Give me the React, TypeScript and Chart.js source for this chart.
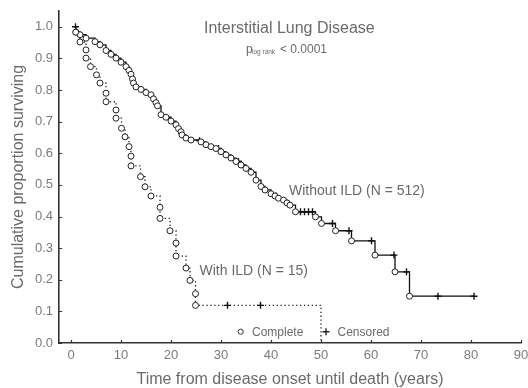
import React, { useEffect, useRef } from "react";
import { Chart, registerables } from "chart.js";

Chart.register(...registerables);

// ---------- data ----------
const xTicks = [0, 10, 20, 30, 40, 50, 60, 70, 80, 90];
const yTicks = [0, 0.1, 0.2, 0.3, 0.4, 0.5, 0.6, 0.7, 0.8, 0.9, 1.0];
const X_MIN = -2.4;
const X_MAX = 90;
const Y_MIN = 0;
const Y_MAX = 1.05;

const START_TIME = 0.9;

// Without ILD (N = 512): complete (death) events
const noIldTimes = [1.0, 1.8, 3.0, 4.8, 5.8, 7.0, 8.0, 9.0, 10.0, 11.0, 11.6, 12.0, 12.3, 12.5, 13.0, 14.0, 15.0, 16.0, 16.5, 17.0, 17.3, 18.0, 19.0, 20.0, 21.0, 21.5, 22.0, 22.2, 23.0, 24.0, 26.0, 27.0, 28.0, 29.0, 30.0, 31.0, 32.0, 33.0, 34.0, 35.0, 36.0, 37.0, 38.0, 38.8, 40.0, 40.8, 41.5, 42.5, 43.2, 43.8, 44.9, 48.9, 50.1, 52.9, 56.1, 60.8, 64.8, 67.7];
const noIldSurv = [0.983, 0.975, 0.964, 0.953, 0.943, 0.925, 0.913, 0.901, 0.888, 0.874, 0.862, 0.850, 0.835, 0.822, 0.810, 0.802, 0.792, 0.785, 0.772, 0.760, 0.750, 0.722, 0.714, 0.702, 0.690, 0.678, 0.668, 0.658, 0.648, 0.642, 0.636, 0.627, 0.621, 0.615, 0.605, 0.595, 0.585, 0.574, 0.563, 0.552, 0.540, 0.515, 0.495, 0.484, 0.472, 0.465, 0.458, 0.452, 0.443, 0.436, 0.415, 0.399, 0.378, 0.355, 0.323, 0.278, 0.225, 0.148];
// Without ILD: censored observations
const noIldCensTimes = [0.9, 25.7, 29.5, 33.5, 41.0, 45.9, 46.7, 47.5, 48.3, 52.3, 55.6, 60.1, 64.6, 67.1, 73.4, 80.6];
const noIldCensSurv = [1.0, 0.640, 0.615, 0.574, 0.465, 0.415, 0.415, 0.415, 0.415, 0.378, 0.355, 0.323, 0.278, 0.225, 0.148, 0.148];

// With ILD (N = 15): complete (death) events
const ildTimes = [0.94, 1.8, 3.0, 3.0, 3.9, 5.1, 5.8, 7.0, 7.0, 9.0, 9.0, 10.1, 10.8, 11.6, 12.0, 12.0, 13.9, 14.8, 16.0, 17.8, 17.8, 19.8, 21.0, 21.0, 23.0, 23.8, 24.9, 24.9];
const ildSurv = [0.983, 0.952, 0.927, 0.901, 0.874, 0.848, 0.822, 0.790, 0.763, 0.737, 0.711, 0.679, 0.652, 0.621, 0.591, 0.560, 0.526, 0.494, 0.465, 0.429, 0.394, 0.355, 0.316, 0.275, 0.237, 0.198, 0.156, 0.119];
// With ILD: censored observations
const ildCensTimes = [31.3, 37.9];
const ildCensSurv = [0.119, 0.119];
// With ILD: end of follow-up
const ildEndTime = 50;
const ildEndSurv = 0;

const TITLE = "Interstitial Lung Disease";
const X_TITLE = "Time from disease onset until death (years)";
const Y_TITLE = "Cumulative proportion surviving";
const LABEL_NO_ILD = "Without ILD (N = 512)";
const LABEL_ILD = "With ILD (N = 15)";

const FONT = "'Liberation Sans', Arial, sans-serif";
const TEXT = "#6a6a6a";
const AXIS = "#333333";

const pts = (xs: number[], ys: number[]) => xs.map((x, i) => ({ x, y: ys[i] }));

const overlay = {
  id: "overlay",
  afterDraw(chart: any) {
    const { ctx } = chart;
    const xs = chart.scales.x;
    const ys = chart.scales.y;
    const area = chart.chartArea;
    ctx.save();
    // inward tick marks
    ctx.strokeStyle = AXIS;
    ctx.lineWidth = 1.2;
    ctx.beginPath();
    xTicks.forEach((v) => {
      const px = Math.round(xs.getPixelForValue(v)) + 0.5;
      ctx.moveTo(px, area.bottom);
      ctx.lineTo(px, area.bottom - 3);
    });
    yTicks.forEach((v) => {
      const py = Math.round(ys.getPixelForValue(v)) + 0.5;
      ctx.moveTo(area.left, py);
      ctx.lineTo(area.left + 3, py);
    });
    ctx.stroke();

    ctx.fillStyle = TEXT;
    ctx.textBaseline = "alphabetic";
    ctx.textAlign = "left";
    // title
    ctx.font = `16px ${FONT}`;
    ctx.fillText(TITLE, 204, 32.5);
    // p-value
    ctx.font = `12px ${FONT}`;
    ctx.fillText("p", 246, 53);
    ctx.font = `6.5px ${FONT}`;
    ctx.fillText("log rank", 252, 54);
    ctx.font = `12px ${FONT}`;
    ctx.fillText("< 0.0001", 280, 53);
    // curve labels
    ctx.font = `14px ${FONT}`;
    ctx.fillText(LABEL_NO_ILD, 289, 195);
    ctx.fillText(LABEL_ILD, 199.5, 275);
    // legend
    ctx.beginPath();
    ctx.arc(240.7, 331.7, 2.6, 0, Math.PI * 2);
    ctx.fillStyle = "#fff";
    ctx.fill();
    ctx.strokeStyle = "#333";
    ctx.lineWidth = 1;
    ctx.stroke();
    ctx.beginPath();
    ctx.strokeStyle = "#222";
    ctx.lineWidth = 1.4;
    ctx.moveTo(322.5, 331.7);
    ctx.lineTo(329.5, 331.7);
    ctx.moveTo(326, 328.2);
    ctx.lineTo(326, 335.2);
    ctx.stroke();
    ctx.fillStyle = TEXT;
    ctx.font = `12px ${FONT}`;
    ctx.fillText("Complete", 252, 336);
    ctx.fillText("Censored", 337.5, 336);
    ctx.restore();
  },
};

export default function App() {
  const ref = useRef<HTMLCanvasElement>(null);

  useEffect(() => {
    const canvas = ref.current;
    if (!canvas) return;

    const noIldLine = [
      { x: START_TIME, y: 1 },
      ...pts(noIldTimes, noIldSurv),
      { x: noIldCensTimes[noIldCensTimes.length - 1], y: noIldCensSurv[noIldCensSurv.length - 1] },
    ];
    const ildLine = [
      { x: START_TIME, y: 1 },
      ...pts(ildTimes, ildSurv),
      { x: ildEndTime, y: ildSurv[ildSurv.length - 1] },
      { x: ildEndTime, y: ildEndSurv },
    ];

    const chart = new Chart(canvas, {
      type: "line",
      data: {
        datasets: [
          {
            label: "With ILD complete",
            data: pts(ildTimes, ildSurv),
            showLine: false,
            pointStyle: "circle",
            pointRadius: 3,
            pointBackgroundColor: "#ffffff",
            pointBorderColor: "#222222",
            pointBorderWidth: 1,
            order: 0,
          },
          {
            label: "Without ILD complete",
            data: pts(noIldTimes, noIldSurv),
            showLine: false,
            pointStyle: "circle",
            pointRadius: 3,
            pointBackgroundColor: "#ffffff",
            pointBorderColor: "#222222",
            pointBorderWidth: 1,
            order: 1,
          },
          {
            label: "Censored",
            data: [...pts(noIldCensTimes, noIldCensSurv), ...pts(ildCensTimes, ildCensSurv)],
            showLine: false,
            pointStyle: "cross",
            pointRadius: 3.5,
            pointBorderColor: "#111111",
            pointBorderWidth: 1.4,
            order: 2,
          },
          {
            label: LABEL_NO_ILD,
            data: noIldLine,
            stepped: "before",
            borderColor: "#111111",
            borderWidth: 1.3,
            pointRadius: 0,
            fill: false,
            order: 3,
          },
          {
            label: LABEL_ILD,
            data: ildLine,
            stepped: "before",
            borderColor: "#222222",
            borderWidth: 1.3,
            borderDash: [1.3, 2.6],
            pointRadius: 0,
            fill: false,
            order: 4,
          },
        ],
      },
      options: {
        responsive: false,
        animation: false,
        layout: { padding: { top: 11, right: 7, bottom: 0, left: 0 } },
        plugins: {
          legend: { display: false },
          tooltip: { enabled: false },
          title: { display: false },
        },
        scales: {
          x: {
            type: "linear",
            min: X_MIN,
            max: X_MAX,
            afterBuildTicks: (s: any) => {
              s.ticks = xTicks.map((v) => ({ value: v }));
            },
            afterFit: (s: any) => {
              s.height = 45;
              s.paddingLeft = 0;
              s.paddingRight = 0;
            },
            grid: { display: false, drawTicks: false },
            border: { display: true, color: AXIS, width: 1.6 },
            ticks: {
              color: "#7a7a7a",
              font: { family: FONT, size: 13 },
              padding: 5,
              maxRotation: 0,
              autoSkip: false,
              callback: (v: any) => String(v),
            },
            title: {
              display: true,
              text: X_TITLE,
              color: TEXT,
              font: { family: FONT, size: 16, lineHeight: 1.0 },
              padding: { top: 0, bottom: 0 },
            },
          },
          y: {
            type: "linear",
            min: Y_MIN,
            max: Y_MAX,
            afterBuildTicks: (s: any) => {
              s.ticks = yTicks.map((v) => ({ value: v }));
            },
            afterFit: (s: any) => {
              s.width = 59;
              s.paddingTop = 0;
              s.paddingBottom = 0;
            },
            grid: { display: false, drawTicks: false },
            border: { display: true, color: AXIS, width: 1.6 },
            ticks: {
              color: "#7a7a7a",
              font: { family: FONT, size: 13 },
              padding: 6,
              autoSkip: false,
              callback: (v: any) => Number(v).toFixed(1),
            },
            title: {
              display: true,
              text: Y_TITLE,
              color: TEXT,
              font: { family: FONT, size: 16, lineHeight: 1.2 },
              padding: { top: 9, bottom: 0 },
            },
          },
        },
      },
      plugins: [overlay],
    } as any);

    return () => chart.destroy();
  }, []);

  return (
    <div style={{ position: "absolute", left: 0, top: 0, width: 528, height: 388, background: "#ffffff" }}>
      <canvas ref={ref} width={528} height={388} style={{ display: "block", width: 528, height: 388 }} />
    </div>
  );
}
